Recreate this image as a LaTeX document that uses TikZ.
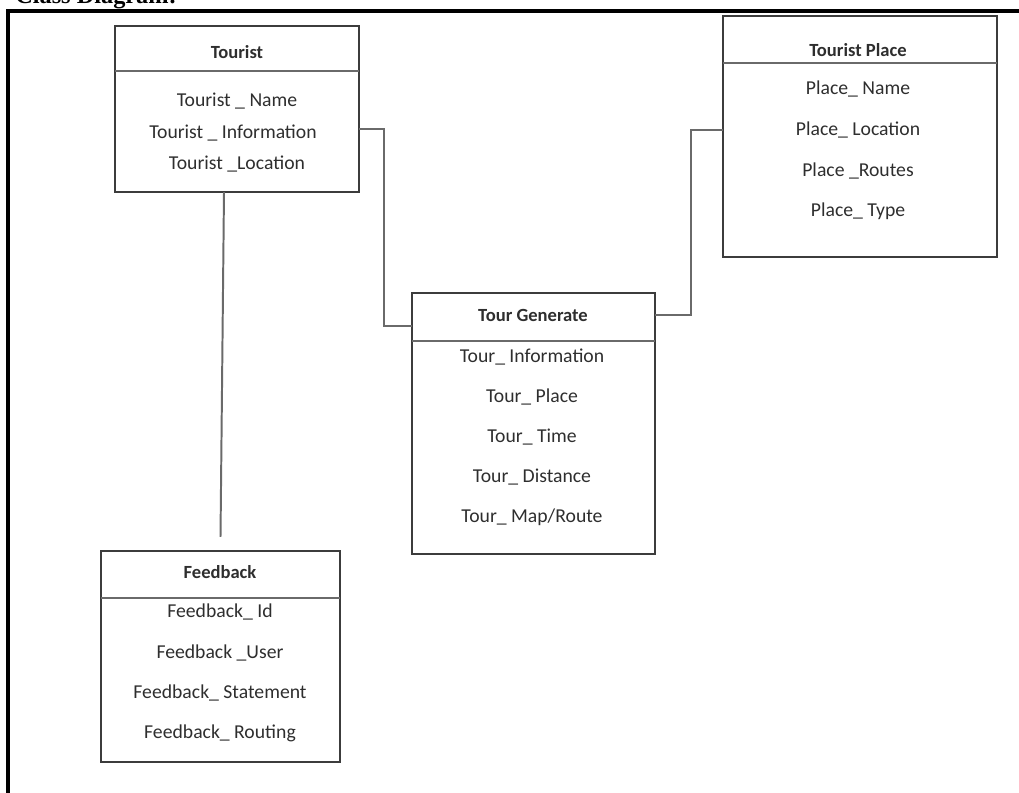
\documentclass[tikz,border=0pt]{standalone}
\usepackage{fontspec}
\setmainfont{Carlito}
\newfontfamily\captionfont{Liberation Serif}
\usepackage{tikz}
\usetikzlibrary{calc}

\definecolor{boxline}{HTML}{3C3C3C}
\definecolor{linkgray}{HTML}{6A6A6A}
\definecolor{txtgray}{HTML}{2E2E2E}

\tikzset{
    classbox/.style={draw=boxline,line width=2pt,inner sep=0,outer sep=0},
    headline/.style={draw=linkgray,line width=1.4pt},
    link/.style={draw=linkgray,line width=1.4pt},
    head/.style={font=\bfseries\fontsize{13.2}{15}\selectfont,text=txtgray,inner sep=0},
    attr/.style={font=\fontsize{14}{16}\selectfont,text=txtgray,inner sep=0}
}

\begin{document}
\begin{tikzpicture}[x=0.025cm,y=-0.025cm]
    \useasboundingbox (0,0) rectangle (1019,793);
    \clip (0,0) rectangle (1019,793);
    \node[anchor=base west,inner sep=0] (caption) at (15,4) {\captionfont\bfseries\fontsize{17.3pt}{20pt}\selectfont Class Diagram:};
    \draw[line width=2.2pt] (8,793) -- (8,11) -- (1019,11);

    % Tourist
    \node[classbox,minimum width=6.1cm,minimum height=4.15cm] (tourist) at (237,109) {};
    \draw[headline] (tourist.west |- 0,71) -- (tourist.east |- 0,71);
    \node[head] (tourist-title) at (237,52) {Tourist};
    \node[attr] (tourist-name) at (237,101) {Tourist \_ Name};
    \node[attr] (tourist-info) at (233,133) {Tourist \_ Information};
    \node[attr] (tourist-loc) at (237,164) {Tourist \_Location};

    % Tourist Place
    \node[classbox,minimum width=6.85cm,minimum height=6.025cm] (place) at (860,136.5) {};
    \draw[headline] (place.west |- 0,63) -- (place.east |- 0,63);
    \node[head] (place-title) at (858,50) {Tourist Place};
    \node[attr] (place-name) at (858,89) {Place\_ Name};
    \node[attr] (place-loc) at (858,130) {Place\_ Location};
    \node[attr] (place-routes) at (858,171) {Place \_Routes};
    \node[attr] (place-type) at (858,211) {Place\_ Type};

    % Tour Generate
    \node[classbox,minimum width=6.075cm,minimum height=6.525cm] (tour) at (533.5,423.5) {};
    \draw[headline] (tour.west |- 0,341) -- (tour.east |- 0,341);
    \node[head] (tour-title) at (533,315) {Tour Generate};
    \node[attr] (tour-info) at (532,357) {Tour\_ Information};
    \node[attr] (tour-place) at (532,397) {Tour\_ Place};
    \node[attr] (tour-time) at (532,437) {Tour\_ Time};
    \node[attr] (tour-dist) at (532,477) {Tour\_ Distance};
    \node[attr] (tour-map) at (532,517) {Tour\_ Map/Route};

    % Feedback
    \node[classbox,minimum width=5.975cm,minimum height=5.275cm] (feedback) at (220.5,656.5) {};
    \draw[headline] (feedback.west |- 0,598) -- (feedback.east |- 0,598);
    \node[head] (feedback-title) at (220,572) {Feedback};
    \node[attr] (feedback-id) at (220,612) {Feedback\_ Id};
    \node[attr] (feedback-user) at (220,653) {Feedback \_User};
    \node[attr] (feedback-stmt) at (220,693) {Feedback\_ Statement};
    \node[attr] (feedback-route) at (220,733) {Feedback\_ Routing};

    % links
    \coordinate (feedback-end) at ([yshift=0.35cm]feedback.north);
    \draw[link] ([xshift=-0.325cm]tourist.south) -- (feedback-end);
    \draw[link] ([yshift=-0.5cm]tourist.east) -- ++(0.625cm,0) |- ([yshift=-0.825cm]tour.north west);
    \draw[link] (tour.east |- tour-title) -- ++(0.9cm,0) |- (place.west |- place-loc);
\end{tikzpicture}
\end{document}
